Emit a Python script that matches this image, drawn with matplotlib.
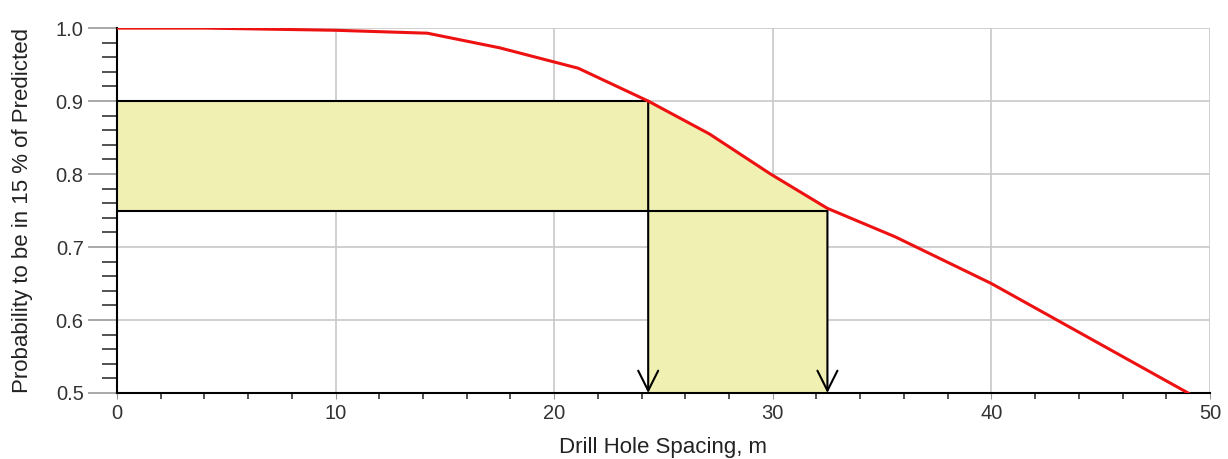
import matplotlib.pyplot as plt
import numpy as np
from matplotlib.ticker import MultipleLocator

plt.rcParams['font.family'] = ['Liberation Sans', 'DejaVu Sans']

# curve
spacing = [0, 4, 10, 14.2, 17.5, 21.1, 24.3, 27.1, 29.9, 32.5, 35.6, 40, 49]
probability = [1.0, 1.0, 0.997, 0.993, 0.973, 0.945, 0.90, 0.855, 0.80, 0.753, 0.714, 0.65, 0.5]

# the two read-off levels
levels = [0.90, 0.75]
level_spacing = [24.3, 32.5]

fill_color = '#f0f0b2'

fig = plt.figure(figsize=(12.28, 4.59), dpi=100)
ax = fig.add_axes([0.0953, 0.1438, 0.89, 0.795])

x = np.array(spacing)
y = np.array(probability)

# shaded areas
ax.fill_between([0, level_spacing[0]], levels[1], levels[0], color=fill_color, lw=0, zorder=1)
mask = (x >= level_spacing[0]) & (x <= level_spacing[1])
xs = np.concatenate([[level_spacing[0]], x[mask], [level_spacing[1]]])
ys = np.interp(xs, x, y)
ax.fill_between(xs, levels[1], ys, color=fill_color, lw=0, zorder=1)
ax.fill_between([level_spacing[0], level_spacing[1]], 0.5, levels[1], color=fill_color, lw=0, zorder=1)

# guide lines
for lvl, xs_ in zip(levels, level_spacing):
    ax.plot([0, xs_], [lvl, lvl], color='black', lw=1.5, zorder=3)
    ax.annotate('', xy=(xs_, 0.5), xytext=(xs_, lvl),
                arrowprops=dict(arrowstyle='->', color='black', lw=1.5,
                                mutation_scale=36, shrinkA=0, shrinkB=0),
                zorder=3)

ax.plot(x, y, color='#ee1111', lw=2.2, zorder=4)

ax.set_xlim(0, 50)
ax.set_ylim(0.5, 1.0)
ax.xaxis.set_major_locator(MultipleLocator(10))
ax.xaxis.set_minor_locator(MultipleLocator(2))
ax.yaxis.set_major_locator(MultipleLocator(0.1))
ax.yaxis.set_minor_locator(MultipleLocator(0.02))
ax.yaxis.set_major_formatter(plt.FormatStrFormatter('%.1f'))

ax.grid(True, which='major', color='#c8c8c8', lw=1.2, zorder=0)
ax.set_axisbelow(True)

for side in ['top', 'right']:
    ax.spines[side].set_visible(False)
ax.spines['left'].set_linewidth(1.5)
ax.spines['bottom'].set_linewidth(1.5)

ax.tick_params(axis='y', which='major', length=21, color='#999999', width=1.2,
               labelsize=14.5, labelcolor='#333333', pad=3)
ax.tick_params(axis='y', which='minor', length=11, color='#333333', width=1.2)
ax.tick_params(axis='x', which='major', length=4, color='#999999',
               labelsize=14.5, labelcolor='#333333', pad=4)
ax.tick_params(axis='x', which='minor', length=4, color='#333333', width=1.2)

ax.set_xlabel('Drill Hole Spacing, m', fontsize=16, color='#222222', labelpad=10)
ax.set_ylabel('Probability to be in 15 % of Predicted', fontsize=16, color='#222222', labelpad=16)

fig.savefig('out.png', dpi=100)
